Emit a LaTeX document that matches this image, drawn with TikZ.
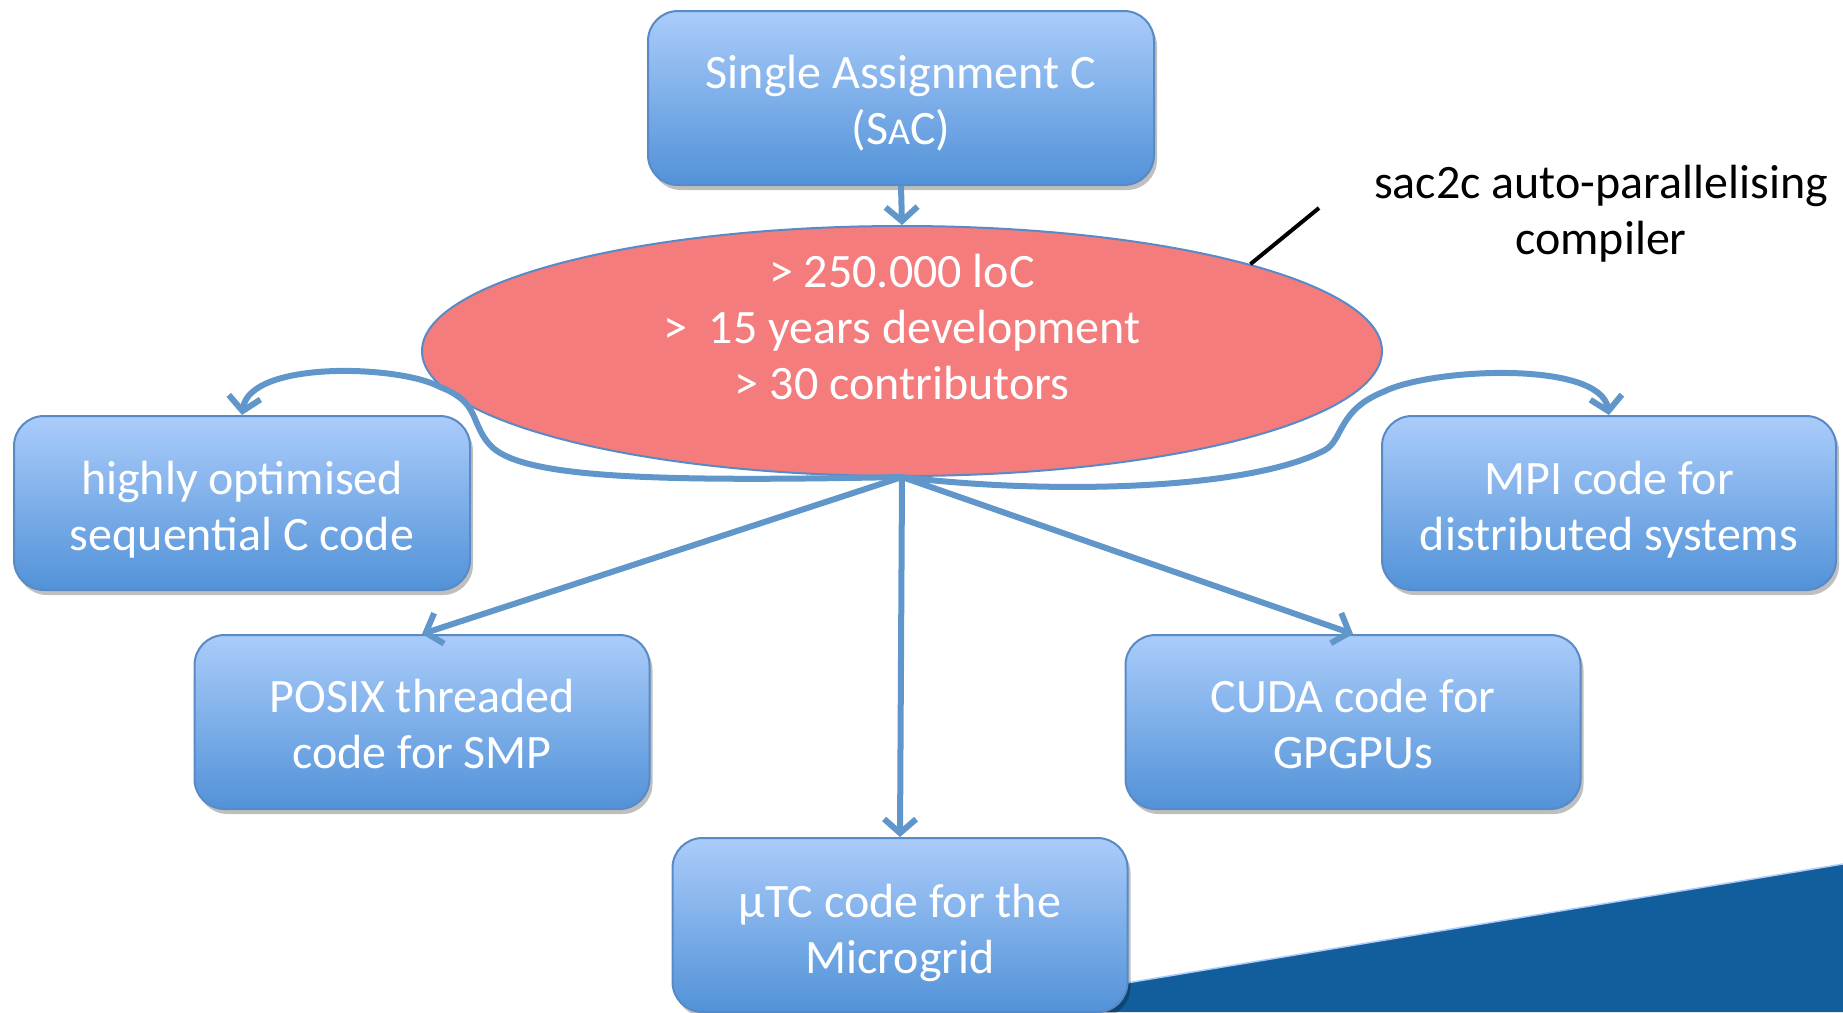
\documentclass[tikz,border=0pt]{standalone}
\usepackage{fontspec}
\setmainfont{Carlito}
\usetikzlibrary{shapes.geometric,arrows.meta,shadows}
\definecolor{boxtop}{RGB}{170,204,250}
\definecolor{boxbot}{RGB}{82,146,216}
\definecolor{boxedge}{RGB}{88,138,198}
\definecolor{conncol}{RGB}{96,150,202}
\definecolor{ellfill}{RGB}{244,124,124}
\definecolor{tricol}{RGB}{18,94,157}
\begin{document}
\begin{tikzpicture}[x=1pt,y=-1pt,
  bluebox/.style={rectangle, rounded corners=30pt, draw=boxedge, line width=2pt,
    top color=boxtop, bottom color=boxbot, minimum width=455pt, minimum height=174pt,
    inner sep=0pt,
    drop shadow={shadow xshift=3pt, shadow yshift=-5pt, opacity=0.25, fill=black}},
  bigtext/.style={align=center, font=\fontsize{48}{56}\selectfont, inner sep=0pt},
  boxtext/.style={bigtext, text=white},
  link/.style={draw=conncol, line width=6pt, -{Straight Barb[length=14pt,width=32pt]}},
]
\useasboundingbox (0,0) rectangle (1843,1012);
% background triangle
\fill[tricol] (1000,1004) -- (1843,864) -- (1843,1012) -- (1000,1012) -- cycle;
\draw[boxtop, line width=1.5pt] (1000,1004) -- (1843,864);

% boxes
\node[bluebox, minimum width=506pt] (sac) at (901,98) {};
\node[bluebox, minimum width=456pt] (seq) at (242,503) {};
\node[bluebox, minimum width=454pt] (mpi) at (1609,503) {};
\node[bluebox] (posix) at (422,722) {};
\node[bluebox] (cuda) at (1353,722) {};
\node[bluebox] (utc) at (900,925) {};

\node[boxtext] (sact) at ([yshift=-5pt]sac.center) {Single Assignment C\\(S{\fontsize{38}{56}\selectfont A}C)};
\node[boxtext] (seqt) at ([yshift=-7pt]seq.center) {highly optimised\\sequential C code};
\node[boxtext] (mpit) at ([yshift=-7pt]mpi.center) {MPI code for\\distributed systems};
\node[boxtext] (posixt) at ([yshift=-2pt]posix.center) {POSIX threaded\\code for SMP};
\node[boxtext] (cudat) at ([yshift=-2pt]cuda.center) {CUDA code for\\GPGPUs};
\node[boxtext] (utct) at ([yshift=-8pt]utc.center) {µTC code for the\\Microgrid};

% compiler ellipse
\node[ellipse, draw=boxedge, line width=2pt, fill=ellfill, minimum width=960pt,
  minimum height=250pt, inner sep=0pt] (ell) at (902,351) {};
\node[boxtext] (elltext) at (902,327) {> 250.000 loC\\>\ \ 15 years development\\> 30 contributors};

% connectors
\draw[link] (sac.south) -- (ell.north);
\draw[link] (ell.south) -- (posix.north);
\draw[link] (ell.south) -- (cuda.north);
\draw[link] (ell.south) -- (utc.north);
\draw[link] (ell.south) .. controls (650,482) and (520,478) .. (490,445)
  .. controls (470,423) and (480,402) .. (440,387)
  .. controls (400,365) and (250,360) .. (seq.north);
\draw[link] (ell.south) .. controls (1050,495) and (1250,490) .. (1325,450)
  .. controls (1343,440) and (1338,410) .. (1383,392)
  .. controls (1430,368) and (1600,360) .. (mpi.north);

% label
\node[bigtext, text=black] (lbl) at (1601,214) {sac2c auto-parallelising\\compiler};
\coordinate (lblpt) at (1319,208);
\draw[black, line width=4pt] (lblpt) -- (ell.14);
\end{tikzpicture}
\end{document}
